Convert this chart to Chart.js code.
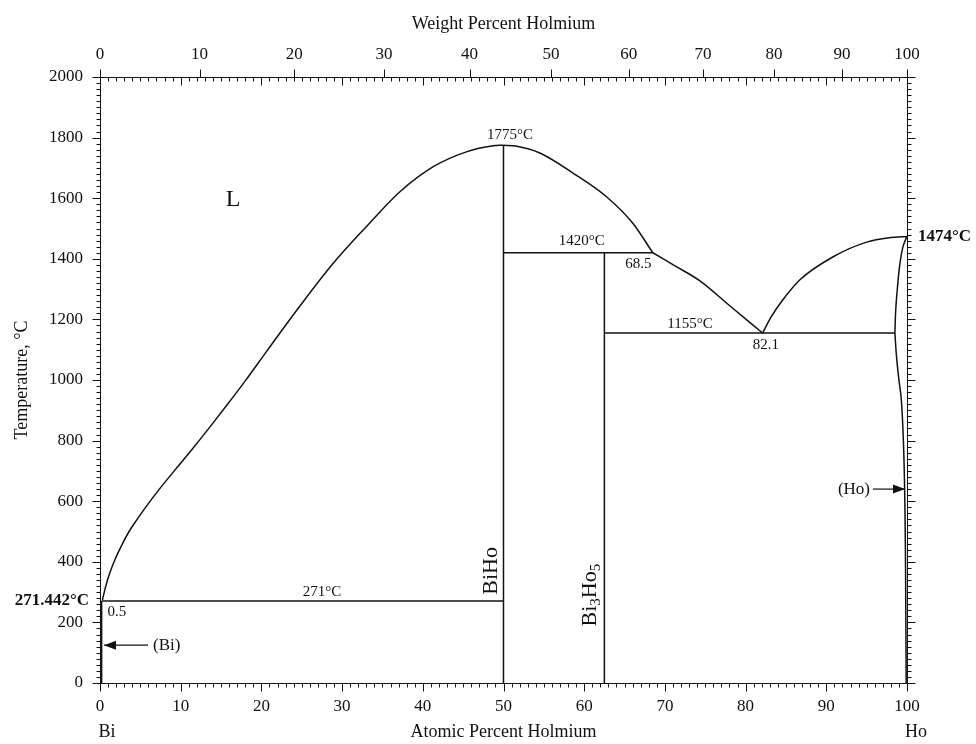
<!DOCTYPE html>
<html>
<head>
<meta charset="utf-8">
<script src="https://cdn.jsdelivr.net/npm/chart.js@4.4.1/dist/chart.umd.min.js"></script>
<style>
html, body { margin: 0; padding: 0; background: #fff; }
#wrap { width: 976px; height: 744px; }
</style>
</head>
<body>
<div id="wrap"><canvas id="phase"></canvas></div>
<script>
// Bi-Ho phase diagram, x = at.% Ho, y = temperature in C
const atTicks = [0, 10, 20, 30, 40, 50, 60, 70, 80, 90, 100];
const wtTicks = [0, 10, 20, 30, 40, 50, 60, 70, 80, 90, 100];
const tempTicks = [0, 200, 400, 600, 800, 1000, 1200, 1400, 1600, 1800, 2000];

const liquidusBi = [[0.3, 274], [0.7, 318], [1.2, 362], [1.9, 410], [2.7, 455], [3.6, 500], [4.6, 540], [5.6, 578], [7.6, 648], [9.7, 716], [11.8, 784], [13.8, 851], [15.9, 923], [18.0, 997], [20.6, 1093], [24.8, 1245], [28.9, 1385], [33.0, 1506], [37.2, 1622], [41.3, 1704], [45.4, 1753], [48.7, 1773], [50, 1775]];
const liquidusBiHo = [[50, 1775], [51.5, 1772], [54.5, 1749], [58.6, 1683], [62.8, 1604], [66.0, 1518], [68.5, 1420]];
const liquidusMid = [[68.5, 1420], [71.3, 1376], [74.3, 1328], [78.0, 1246], [82.1, 1155]];
const liquidusHo = [[82.1, 1155], [83.2, 1210], [84.6, 1264], [86.7, 1330], [90.8, 1406], [95.0, 1455], [98.0, 1470], [100, 1474]];
const solvusHoUpper = [[100, 1474], [99.5, 1440], [99.1, 1380], [98.8, 1300], [98.6, 1230], [98.5, 1155]];
const solvusHoLower = [[98.5, 1155], [98.7, 1077], [99.0, 1000], [99.3, 934], [99.55, 800], [99.7, 650], [99.8, 450], [99.85, 250], [99.9, 0]];
const solvusBi = [[0.2, 0], [0.2, 271]];
const lineBiHo = [[50, 0], [50, 1775]];
const lineBi3Ho5 = [[62.5, 0], [62.5, 1420]];
const iso271 = [[0.2, 271], [50, 271]];
const iso1420 = [[50, 1420], [68.5, 1420]];
const iso1155 = [[62.5, 1155], [98.5, 1155]];

const BI_MASS = 208.98;
const HO_MASS = 164.93;
const wtToAt = w => 100 * (w / HO_MASS) / (w / HO_MASS + (100 - w) / BI_MASS);

const toPts = arr => arr.map(p => ({ x: p[0], y: p[1] }));
const SERIF = "'Liberation Serif', 'DejaVu Serif', serif";
const INK = '#111';

function curve(arr, smooth) {
    const ds = {
        data: toPts(arr),
        showLine: true,
        borderColor: INK,
        borderWidth: 1.5,
        pointRadius: 0,
        tension: 0,
        xAxisID: 'x',
        yAxisID: 'y'
    };
    if (smooth === 'mono') ds.cubicInterpolationMode = 'monotone';
    else if (smooth) ds.tension = smooth;
    return ds;
}

const datasets = [
    curve(liquidusBi, 'mono'),
    curve(liquidusBiHo, 'mono'),
    curve(liquidusMid, 'mono'),
    curve(liquidusHo, 'mono'),
    curve(solvusHoUpper, 0.4),
    curve(solvusHoLower, 0.4),
    curve(solvusBi, 0),
    curve(lineBiHo, 0),
    curve(lineBi3Ho5, 0),
    curve(iso271, 0),
    curve(iso1420, 0),
    curve(iso1155, 0)
];

// small labels on the diagram: [text, at.%, T, size, bold, align]
const notes = [
    ['1775°C', 50.8, 1808, 15, false, 'center'],
    ['1420°C', 59.7, 1459, 15, false, 'center'],
    ['68.5', 66.7, 1383, 15, false, 'center'],
    ['1155°C', 73.1, 1185, 15, false, 'center'],
    ['82.1', 82.5, 1115, 15, false, 'center'],
    ['271°C', 27.5, 300, 15, false, 'center'],
    ['0.5', 2.1, 234, 15, false, 'center'],
    ['L', 16.5, 1594, 24, false, 'center']
];

const frameTicks = {
    id: 'frameTicks',
    afterDraw(chart) {
        const { ctx, chartArea: a, scales } = chart;
        const x = scales.x, y = scales.y, xt = scales.xTop;
        const L = Math.round(a.left) + 0.5, R = Math.round(a.right) + 0.5;
        const T = Math.round(a.top) + 0.5, B = Math.round(a.bottom) + 0.5;
        ctx.save();
        ctx.strokeStyle = INK;
        ctx.lineWidth = 1;
        ctx.beginPath();
        ctx.rect(L, T, R - L, B - T);
        for (let i = 0; i <= 100; i++) {
            const px = Math.round(x.getPixelForValue(i)) + 0.5;
            const major = i % 10 === 0;
            ctx.moveTo(px, B);
            ctx.lineTo(px, B + (major ? 8 : 4));
            ctx.moveTo(px, T);
            ctx.lineTo(px, T + (major ? 8 : 4));
        }
        wtTicks.forEach(w => {
            const px = Math.round(xt.getPixelForValue(wtToAt(w))) + 0.5;
            ctx.moveTo(px, T);
            ctx.lineTo(px, T - 8);
        });
        for (let t = 0; t <= 2000; t += 20) {
            const py = Math.round(y.getPixelForValue(t)) + 0.5;
            const major = t % 200 === 0;
            ctx.moveTo(L, py);
            ctx.lineTo(L - (major ? 8 : 4), py);
            ctx.moveTo(R, py);
            ctx.lineTo(R + (major ? 8 : 4), py);
        }
        ctx.stroke();
        ctx.restore();
    }
};

function arrow(ctx, x1, y1, x2, y2) {
    ctx.beginPath();
    ctx.moveTo(x1, y1);
    ctx.lineTo(x2, y2);
    ctx.stroke();
    const dir = Math.sign(x2 - x1);
    ctx.beginPath();
    ctx.moveTo(x2, y2);
    ctx.lineTo(x2 - dir * 12, y2 - 4.5);
    ctx.lineTo(x2 - dir * 12, y2 + 4.5);
    ctx.closePath();
    ctx.fill();
}

const diagramText = {
    id: 'diagramText',
    afterDraw(chart) {
        const { ctx, chartArea: a, scales } = chart;
        const x = scales.x, y = scales.y;
        ctx.save();
        ctx.fillStyle = INK;
        ctx.strokeStyle = INK;
        ctx.lineWidth = 1.2;
        ctx.textBaseline = 'middle';

        notes.forEach(n => {
            ctx.font = (n[4] ? 'bold ' : '') + n[3] + 'px ' + SERIF;
            ctx.textAlign = n[5];
            ctx.fillText(n[0], x.getPixelForValue(n[1]), y.getPixelForValue(n[2]));
        });

        // melting points outside the frame
        ctx.font = 'bold 17px ' + SERIF;
        ctx.textAlign = 'right';
        ctx.fillText('271.442°C', a.left - 11, y.getPixelForValue(271));
        ctx.textAlign = 'left';
        ctx.fillText('1474°C', a.right + 11, y.getPixelForValue(1474));

        // phase names
        ctx.font = '17px ' + SERIF;
        ctx.textAlign = 'left';
        const biY = y.getPixelForValue(125);
        ctx.fillText('(Bi)', a.left + 53, biY);
        arrow(ctx, a.left + 48, biY, a.left + 4, biY);
        const hoY = y.getPixelForValue(640);
        ctx.textAlign = 'right';
        ctx.fillText('(Ho)', a.right - 37, hoY);
        arrow(ctx, a.right - 34, hoY, a.right - 2, hoY);

        // compound names, rotated
        ctx.save();
        ctx.translate(x.getPixelForValue(50) - 12, y.getPixelForValue(370));
        ctx.rotate(-Math.PI / 2);
        ctx.font = '22px ' + SERIF;
        ctx.textAlign = 'center';
        ctx.fillText('BiHo', 0, 0);
        ctx.restore();

        ctx.save();
        ctx.translate(x.getPixelForValue(62.5) - 14, y.getPixelForValue(290));
        ctx.rotate(-Math.PI / 2);
        ctx.textAlign = 'left';
        const parts = [['Bi', 22, 0], ['3', 15, 6], ['Ho', 22, 0], ['5', 15, 6]];
        let w = 0;
        parts.forEach(p => { ctx.font = p[1] + 'px ' + SERIF; w += ctx.measureText(p[0]).width; });
        let cx = -w / 2;
        parts.forEach(p => {
            ctx.font = p[1] + 'px ' + SERIF;
            ctx.fillText(p[0], cx, p[2]);
            cx += ctx.measureText(p[0]).width;
        });
        ctx.restore();

        // axis titles
        ctx.font = '18px ' + SERIF;
        ctx.textAlign = 'center';
        const midX = (a.left + a.right) / 2;
        ctx.fillText('Weight Percent Holmium', midX, 24);
        ctx.fillText('Atomic Percent Holmium', midX, 732);
        ctx.fillText('Bi', x.getPixelForValue(0) + 7, 732);
        ctx.fillText('Ho', x.getPixelForValue(100) + 9, 732);
        ctx.save();
        ctx.translate(22, (a.top + a.bottom) / 2);
        ctx.rotate(-Math.PI / 2);
        ctx.fillText('Temperature, °C', 0, 0);
        ctx.restore();

        ctx.restore();
    }
};

const tickFont = { family: SERIF, size: 17 };

new Chart(document.getElementById('phase'), {
    type: 'scatter',
    data: { datasets: datasets },
    options: {
        responsive: true,
        maintainAspectRatio: false,
        animation: false,
        layout: { padding: 0 },
        plugins: {
            legend: { display: false },
            tooltip: { enabled: false }
        },
        scales: {
            x: {
                type: 'linear',
                position: 'bottom',
                min: 0,
                max: 100,
                afterBuildTicks: s => { s.ticks = atTicks.map(v => ({ value: v })); },
                afterFit: s => { s.height = 61; },
                grid: { display: false, drawTicks: false },
                border: { display: false },
                ticks: { font: tickFont, color: INK, padding: 13, maxRotation: 0, autoSkip: false, callback: v => String(v) }
            },
            xTop: {
                type: 'linear',
                position: 'top',
                min: 0,
                max: 100,
                afterBuildTicks: s => { s.ticks = wtTicks.map(w => ({ value: wtToAt(w) })); },
                afterFit: s => { s.height = 77; },
                grid: { display: false, drawTicks: false },
                border: { display: false },
                ticks: {
                    font: tickFont,
                    color: INK,
                    padding: 12,
                    maxRotation: 0,
                    autoSkip: false,
                    callback: (v, i) => String(wtTicks[i])
                }
            },
            y: {
                type: 'linear',
                position: 'left',
                min: 0,
                max: 2000,
                afterBuildTicks: s => { s.ticks = tempTicks.map(v => ({ value: v })); },
                afterFit: s => { s.width = 100; },
                grid: { display: false, drawTicks: false },
                border: { display: false },
                ticks: { font: tickFont, color: INK, padding: 17, autoSkip: false, callback: v => String(v) }
            },
            y2: {
                type: 'linear',
                position: 'right',
                min: 0,
                max: 2000,
                afterFit: s => { s.width = 69; },
                grid: { display: false, drawTicks: false },
                border: { display: false },
                ticks: { display: false }
            }
        }
    },
    plugins: [frameTicks, diagramText]
});
</script>
</body>
</html>
